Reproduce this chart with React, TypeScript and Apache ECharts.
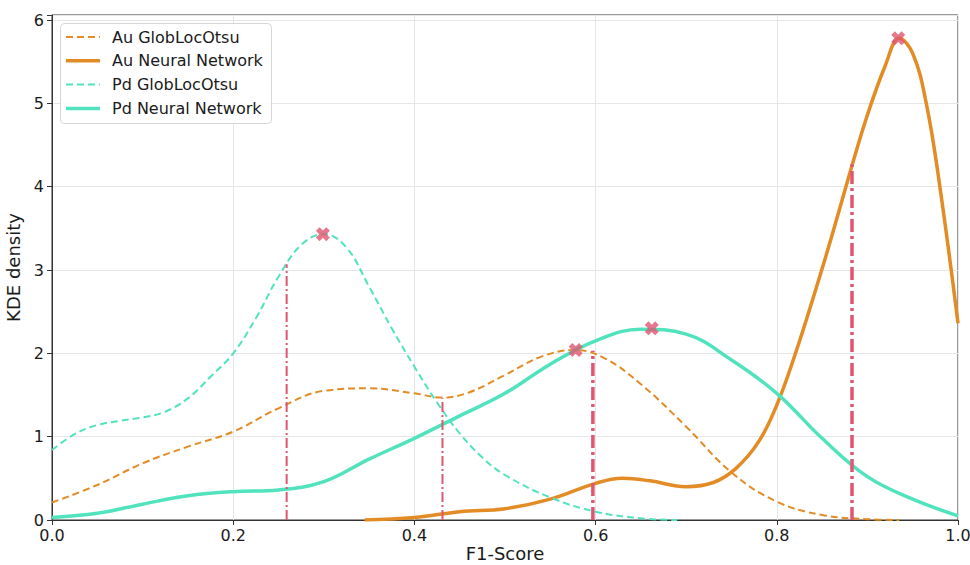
import React, { useEffect, useRef } from "react";
import * as echarts from "echarts";

const xTickLabels = ["0.0", "0.2", "0.4", "0.6", "0.8", "1.0"];
const yTickLabels = ["0", "1", "2", "3", "4", "5", "6"];
const xAxisTitle = "F1-Score";

const seriesNames = ["Au GlobLocOtsu", "Au Neural Network", "Pd GlobLocOtsu", "Pd Neural Network"];

const auGlob: number[][] = [
  [0, 0.21], [0.05, 0.42], [0.1, 0.68], [0.15, 0.88], [0.2, 1.06], [0.25, 1.34], [0.3, 1.55],
  [0.35, 1.58], [0.4, 1.52], [0.43, 1.47], [0.46, 1.53], [0.5, 1.74], [0.54, 1.96],
  [0.577, 2.04], [0.61, 1.94], [0.65, 1.63], [0.7, 1.12], [0.75, 0.57], [0.8, 0.22],
  [0.85, 0.06], [0.9, 0.01], [0.935, 0.0],
];

const auNN: number[][] = [
  [0.345, 0.0], [0.4, 0.03], [0.45, 0.1], [0.5, 0.135], [0.55, 0.25], [0.6, 0.44],
  [0.63, 0.5], [0.66, 0.47], [0.7, 0.4], [0.73, 0.45], [0.755, 0.62], [0.78, 0.94],
  [0.8, 1.38], [0.82, 1.98], [0.84, 2.66], [0.86, 3.38], [0.88, 4.14], [0.9, 4.86],
  [0.92, 5.46], [0.935, 5.78], [0.95, 5.6], [0.965, 5.0], [0.98, 4.0], [1.0, 2.36],
];

const pdGlob: number[][] = [
  [0, 0.84], [0.025, 1.03], [0.05, 1.14], [0.075, 1.19], [0.1, 1.23], [0.125, 1.3],
  [0.15, 1.46], [0.175, 1.72], [0.2, 2.0], [0.225, 2.42], [0.25, 2.92], [0.275, 3.3],
  [0.3, 3.43], [0.325, 3.27], [0.35, 2.8], [0.375, 2.3], [0.4, 1.84], [0.425, 1.41],
  [0.45, 1.04], [0.475, 0.75], [0.5, 0.54], [0.55, 0.27], [0.6, 0.1], [0.65, 0.02], [0.69, 0.0],
];

const pdNN: number[][] = [
  [0, 0.03], [0.05, 0.08], [0.1, 0.19], [0.15, 0.29], [0.2, 0.34], [0.25, 0.36],
  [0.3, 0.46], [0.35, 0.73], [0.4, 0.98], [0.45, 1.25], [0.5, 1.52], [0.55, 1.87],
  [0.6, 2.15], [0.65, 2.29], [0.7, 2.23], [0.75, 1.92], [0.8, 1.52], [0.85, 0.98],
  [0.9, 0.52], [0.95, 0.25], [1.0, 0.05],
];

const peakPoints: number[][] = [
  [0.299, 3.43], [0.578, 2.04], [0.662, 2.3], [0.934, 5.78],
];

const thresholdX = [0.259, 0.431, 0.597, 0.883];
const thresholdTop = [3.07, 1.46, 2.03, 4.27];

const ORANGE = "#E38B24";
const TEAL = "#50E3BE";
const RED = "#DF5670";
const FONT = "DejaVu Sans";

const xPath =
  "path://M0,2.6 L2.6,0 L5,2.4 L7.4,0 L10,2.6 L7.6,5 L10,7.4 L7.4,10 L5,7.6 L2.6,10 L0,7.4 L2.4,5 Z";

export default function App() {
  const ref = useRef<HTMLDivElement>(null);

  useEffect(() => {
    if (!ref.current) return;
    const chart = echarts.init(ref.current, undefined, { renderer: "svg" });

    const curveDefs = [
      { data: auGlob, color: ORANGE, dashed: true },
      { data: auNN, color: ORANGE, dashed: false },
      { data: pdGlob, color: TEAL, dashed: true },
      { data: pdNN, color: TEAL, dashed: false },
    ];

    const curves = curveDefs.map((c, i) => ({
      name: seriesNames[i],
      type: "line",
      data: c.data,
      smooth: 0.4,
      showSymbol: false,
      symbol: "none",
      z: 3,
      lineStyle: {
        color: c.color,
        width: c.dashed ? 2 : 3.5,
        type: c.dashed ? [7, 4] : "solid",
        cap: "butt",
      },
    }));

    const vlines = thresholdX.map((x, i) => ({
      name: "threshold" + i,
      type: "line",
      data: [
        [x, 0],
        [x, thresholdTop[i]],
      ],
      showSymbol: false,
      symbol: "none",
      z: 4,
      lineStyle: {
        color: RED,
        width: i < 2 ? 2 : 3.5,
        type: i < 2 ? [10, 3, 2, 3] : [13, 4, 3, 4],
        cap: "butt",
      },
    }));

    const peaks = {
      name: "peaks",
      type: "scatter",
      data: peakPoints,
      symbol: xPath,
      symbolSize: 14,
      z: 5,
      itemStyle: { color: RED },
    };

    const legendRows = [
      { color: ORANGE, dashed: true, width: 2 },
      { color: ORANGE, dashed: false, width: 3.5 },
      { color: TEAL, dashed: true, width: 2 },
      { color: TEAL, dashed: false, width: 3.5 },
    ];
    const graphicElements: any[] = [
      {
        type: "rect",
        shape: { x: 60.5, y: 23.5, width: 211, height: 100, r: 4 },
        style: { fill: "rgba(255,255,255,0.85)", stroke: "#d6d6d6", lineWidth: 1 },
        z: 10,
      },
      {
        type: "text",
        x: 505,
        y: 553,
        style: {
          text: xAxisTitle,
          fill: "#1a1a1a",
          font: `18px '${FONT}'`,
          align: "center",
          verticalAlign: "middle",
        },
        z: 11,
      },
    ];
    legendRows.forEach((r, i) => {
      const y = 37 + i * 23.8;
      graphicElements.push({
        type: "line",
        shape: { x1: 66, y1: y, x2: 100, y2: y },
        style: {
          stroke: r.color,
          lineWidth: r.width,
          lineDash: r.dashed ? [7, 4] : null,
        },
        z: 11,
      });
      graphicElements.push({
        type: "text",
        x: 112,
        y: y,
        style: {
          text: seriesNames[i],
          fill: "#1a1a1a",
          font: `16px '${FONT}'`,
          verticalAlign: "middle",
          align: "left",
        },
        z: 11,
      });
    });

    chart.setOption({
      animation: false,
      backgroundColor: "#ffffff",
      textStyle: { fontFamily: FONT },
      grid: {
        left: 52,
        right: 12,
        top: 15,
        bottom: 45,
        containLabel: false,
        outerBoundsMode: "none",
        show: true,
        borderColor: "#333333",
        borderWidth: 1,
        backgroundColor: "transparent",
      },
      xAxis: {
        type: "value",
        min: 0,
        max: 1,
        interval: 0.2,
        axisLine: { show: true, onZero: false, lineStyle: { color: "#333333", width: 1 } },
        axisTick: { show: true, length: 5, lineStyle: { color: "#333333" } },
        axisLabel: {
          fontSize: 16,
          color: "#1a1a1a",
          fontFamily: FONT,
          margin: 7,
          formatter: (v: number) => {
            const idx = Math.round(v / 0.2);
            return Math.abs(v - idx * 0.2) < 1e-6 ? xTickLabels[idx] ?? "" : "";
          },
        },
        splitLine: { show: true, lineStyle: { color: "#e6e6e6", width: 1 } },
      },
      yAxis: {
        type: "value",
        min: 0,
        max: 6.06,
        interval: 1,
        name: "KDE density",
        nameLocation: "middle",
        nameGap: 30,
        nameRotate: 90,
        nameTextStyle: { fontSize: 18, color: "#1a1a1a", fontFamily: FONT },
        axisLine: { show: true, lineStyle: { color: "#333333", width: 1 } },
        axisTick: { show: true, length: 5, lineStyle: { color: "#333333" } },
        axisLabel: {
          fontSize: 16,
          color: "#1a1a1a",
          fontFamily: FONT,
          margin: 8,
          formatter: (v: number) => {
            const idx = Math.round(v);
            return Math.abs(v - idx) < 1e-6 ? yTickLabels[idx] ?? "" : "";
          },
        },
        splitLine: { show: true, lineStyle: { color: "#e6e6e6", width: 1 } },
      },
      series: [...curves, ...vlines, peaks],
      graphic: graphicElements,
    });

    return () => chart.dispose();
  }, []);

  return (
    <div
      ref={ref}
      style={{ position: "fixed", left: 0, top: 0, width: 970, height: 565, background: "#fff" }}
    />
  );
}
